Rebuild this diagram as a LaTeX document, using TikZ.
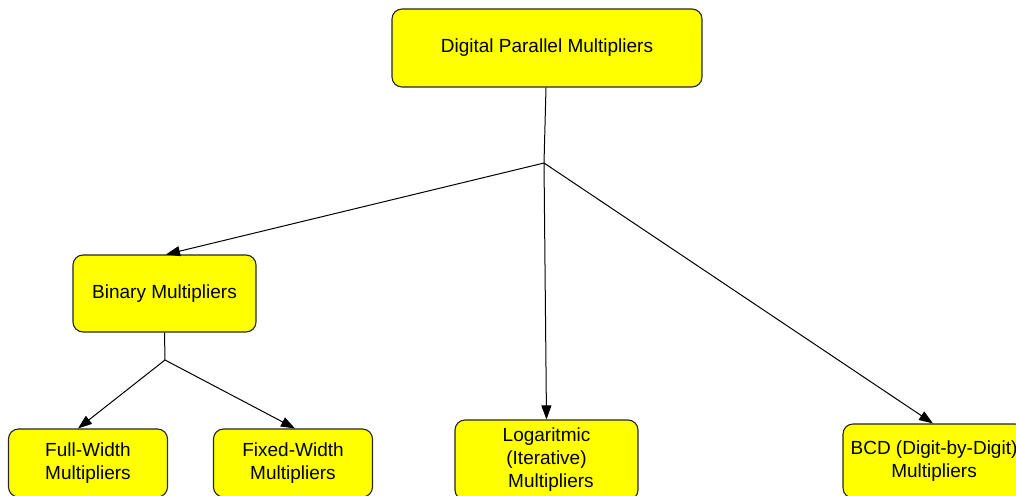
\documentclass[tikz,border=0pt]{standalone}
\usepackage{fontspec}
\setmainfont{Liberation Sans}
\usetikzlibrary{arrows.meta}
\definecolor{boxfill}{RGB}{255,255,0}
\begin{document}
\begin{tikzpicture}[x=1pt,y=-1pt,
  box/.style={draw=black!85, line width=1.1pt, fill=boxfill, rounded corners=10pt,
    align=center, inner sep=0pt, font=\fontsize{19}{23}\selectfont},
  link/.style={draw=black, line width=1pt},
  arr/.style={link, -{Triangle[length=14pt,width=10pt]}}]
  \useasboundingbox (0,0) rectangle (1016,495);
  \clip (0,0) rectangle (1016,495);
  \fill[white] (0,0) rectangle (1016,495);

  % boxes
  \node[box, minimum width=310pt, minimum height=78pt] (top) at (547,48) {Digital Parallel Multipliers};
  \node[box, minimum width=183pt, minimum height=77pt] (bin) at (164.5,293.5) {Binary Multipliers};
  \node[box, minimum width=159pt, minimum height=68pt] (full) at (88,463) {Full-Width\\Multipliers};
  \node[box, minimum width=159pt, minimum height=68pt] (fixed) at (293,463) {Fixed-Width\\Multipliers};
  \node[box, minimum width=183pt, minimum height=80pt] (log) at (546.5,460) {Logaritmic\\(Iterative)\\\hspace*{9pt}Multipliers};
  \node[box, minimum width=182pt, minimum height=74pt] (bcd) at (934,461) {BCD (Digit-by-Digit)\\Multipliers};

  % branching points
  \coordinate (j1) at (544,163);
  \coordinate (j2) at (165,360);

  % connectors
  \draw[link] ([xshift=-1pt]top.south) -- (j1);
  \draw[arr] (j1) -- ([xshift=1.5pt]bin.north);
  \draw[arr] (j1) -- (log.north);
  \draw[arr] (j1) -- ([xshift=-1pt]bcd.north);
  \draw[link] (bin.south) -- (j2);
  \draw[arr] (j2) -- ([xshift=-10pt]full.north);
  \draw[arr] (j2) -- ([xshift=2pt]fixed.north);
\end{tikzpicture}
\end{document}
